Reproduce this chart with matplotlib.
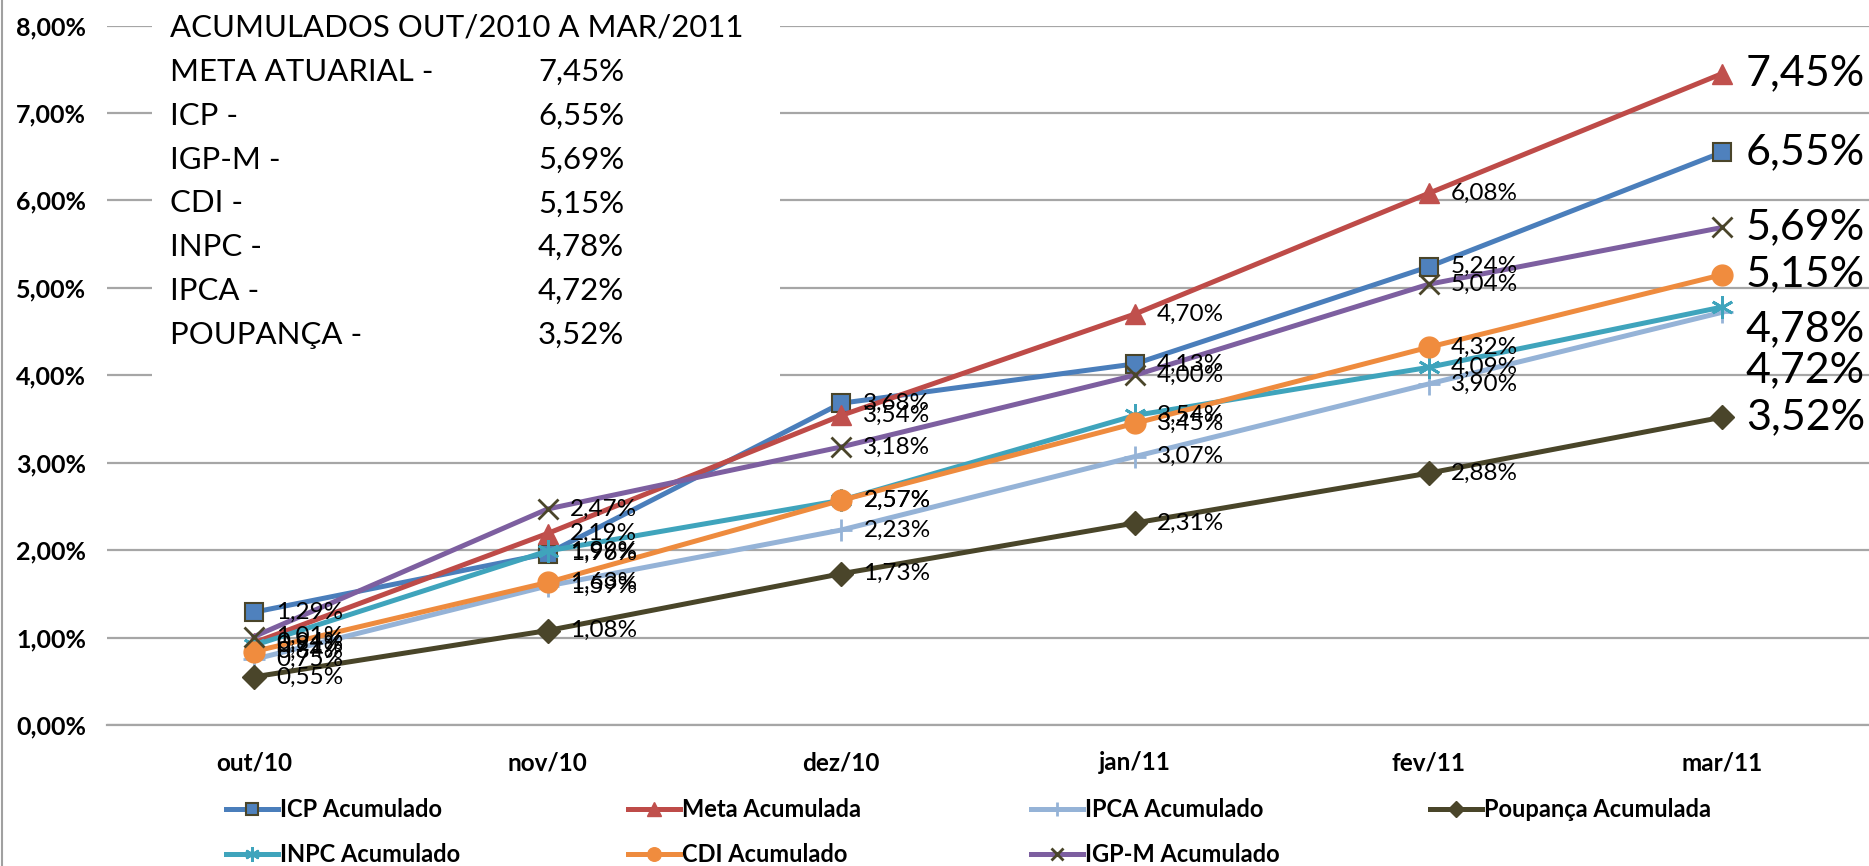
import numpy as np
import matplotlib
matplotlib.use('Agg')
import matplotlib.pyplot as plt
from matplotlib.lines import Line2D
from matplotlib.patches import Rectangle

plt.rcParams['font.family'] = ['Lato', 'DejaVu Sans']

# data (accumulated %, out/2010 .. mar/2011)
months = ['out/10', 'nov/10', 'dez/10', 'jan/11', 'fev/11', 'mar/11']
icp = [1.29, 1.96, 3.68, 4.13, 5.24, 6.55]
meta = [0.94, 2.19, 3.54, 4.70, 6.08, 7.45]
ipca = [0.75, 1.59, 2.23, 3.07, 3.90, 4.72]
poupanca = [0.55, 1.08, 1.73, 2.31, 2.88, 3.52]
inpc = [0.91, 1.99, 2.57, 3.54, 4.09, 4.78]
cdi = [0.84, 1.63, 2.57, 3.45, 4.32, 5.15]
igpm = [1.01, 2.47, 3.18, 4.00, 5.04, 5.69]

box_title = 'ACUMULADOS OUT/2010 A MAR/2011'
box_names = ['META ATUARIAL -', 'ICP -', 'IGP-M -', 'CDI -', 'INPC -', 'IPCA -', 'POUPANÇA -']
box_values = [meta[-1], icp[-1], igpm[-1], cdi[-1], inpc[-1], ipca[-1], poupanca[-1]]

W, H = 1869, 866


def fx(px):
    return px / W


def fy(py):
    return 1 - py / H


def pct(v):
    return f'{v:.2f}'.replace('.', ',') + '%'


fig = plt.figure(figsize=(W / 100, H / 100), dpi=100)
ax = fig.add_axes([fx(107), fy(725), fx(W - 107), (725 - 25.5) / H])

dark = '#4A452A'
series = [
    # name, values, line colour, marker style, last label y offset (pt)
    dict(name='ICP Acumulado', y=icp, c='#4A7EBB', m='s', ms=13, mfc='#4F81BD', mec=dark, mew=1.5, off=0),
    dict(name='Meta Acumulada', y=meta, c='#BE4B48', m='^', ms=15, mfc='#C0504D', mec='#C0504D', mew=1, off=0),
    dict(name='IPCA Acumulado', y=ipca, c='#95B3D7', m='+', ms=16, mfc='#95B3D7', mec='#95B3D7', mew=2, off=-42),
    dict(name='Poupança Acumulada', y=poupanca, c='#494529', m='D', ms=12, mfc=dark, mec=dark, mew=1, off=0),
    dict(name='INPC Acumulado', y=inpc, c='#3FA4BC', m=(6, 2, 0), ms=16, mfc='#3FA4BC', mec='#3FA4BC', mew=2, off=-16),
    dict(name='CDI Acumulado', y=cdi, c='#EE8B3E', m='o', ms=15, mfc='#F08C3E', mec='#F08C3E', mew=1, off=0),
    dict(name='IGP-M Acumulado', y=igpm, c='#7D5FA0', m='x', ms=14, mfc=dark, mec=dark, mew=2, off=0),
]

x = np.arange(len(months))
handles = {}
for i, s in enumerate(series):
    ln, = ax.plot(x, s['y'], color=s['c'], lw=3.6, marker=s['m'], ms=s['ms'],
                  mfc=s['mfc'], mec=s['mec'], mew=s['mew'], zorder=3 + i)
    handles[s['name']] = ln
    for xi, yi in zip(x[:-1], s['y'][:-1]):
        ax.annotate(pct(yi), (xi, yi), xytext=(16, 0), textcoords='offset points',
                    ha='left', va='center', fontsize=17.5, color='black', zorder=20)
    ax.annotate(pct(s['y'][-1]), (x[-1], s['y'][-1]), xytext=(17, s['off']),
                textcoords='offset points', ha='left', va='center', fontsize=31,
                color='black', zorder=20, annotation_clip=False)

ax.set_xlim(-0.5, len(months) - 0.5)
ax.set_ylim(0, 8)
ax.set_yticks(np.arange(0, 9))
ax.set_yticklabels([pct(v) for v in range(9)], fontsize=18, fontweight='bold')
ax.set_xticks(x)
ax.set_xticklabels(months, fontsize=17.5, fontweight='bold')
ax.tick_params(axis='both', length=0)
ax.tick_params(axis='y', pad=15)
ax.tick_params(axis='x', pad=19)
ax.grid(axis='y', color='#A6A6A6', lw=1.6)
ax.set_axisbelow(True)
for side in ['left', 'right', 'top']:
    ax.spines[side].set_visible(False)
ax.spines['bottom'].set_color('#A6A6A6')
ax.spines['bottom'].set_linewidth(1.6)

# white summary box covering the gridlines
fig.patches.append(Rectangle((fx(152), fy(392)), fx(780 - 152), 392 / H,
                             transform=fig.transFigure, facecolor='white',
                             edgecolor='none', zorder=1))
fig.text(fx(170), fy(28), box_title, fontsize=22.4, va='center', ha='left', zorder=5)
for i, (n, v) in enumerate(zip(box_names, box_values)):
    yy = 72 + i * 43.8
    fig.text(fx(170), fy(yy), n, fontsize=22.4, va='center', ha='left', zorder=5)
    fig.text(fx(538), fy(yy), pct(v), fontsize=22.4, va='center', ha='left', zorder=5)

# left border of the chart area
fig.add_artist(Line2D([fx(2), fx(2)], [0, 1], color='#A0A0A0', lw=1.5))

# legend, laid out as 4 columns, 2 rows
cols = [['ICP Acumulado', 'INPC Acumulado'], ['Meta Acumulada', 'CDI Acumulado'],
        ['IPCA Acumulado', 'IGP-M Acumulado'], ['Poupança Acumulada']]
col_x = [226, 628, 1031, 1430]
for names, cx in zip(cols, col_x):
    leg = fig.legend([handles[n] for n in names], names, loc='upper left',
                     bbox_to_anchor=(fx(cx), fy(798)), frameon=False,
                     prop=dict(size=17, weight='bold'), handlelength=2.2,
                     handletextpad=0.1, labelspacing=0.95, borderpad=0,
                     borderaxespad=0, markerscale=0.65)

fig.savefig('out.png', dpi=100)
